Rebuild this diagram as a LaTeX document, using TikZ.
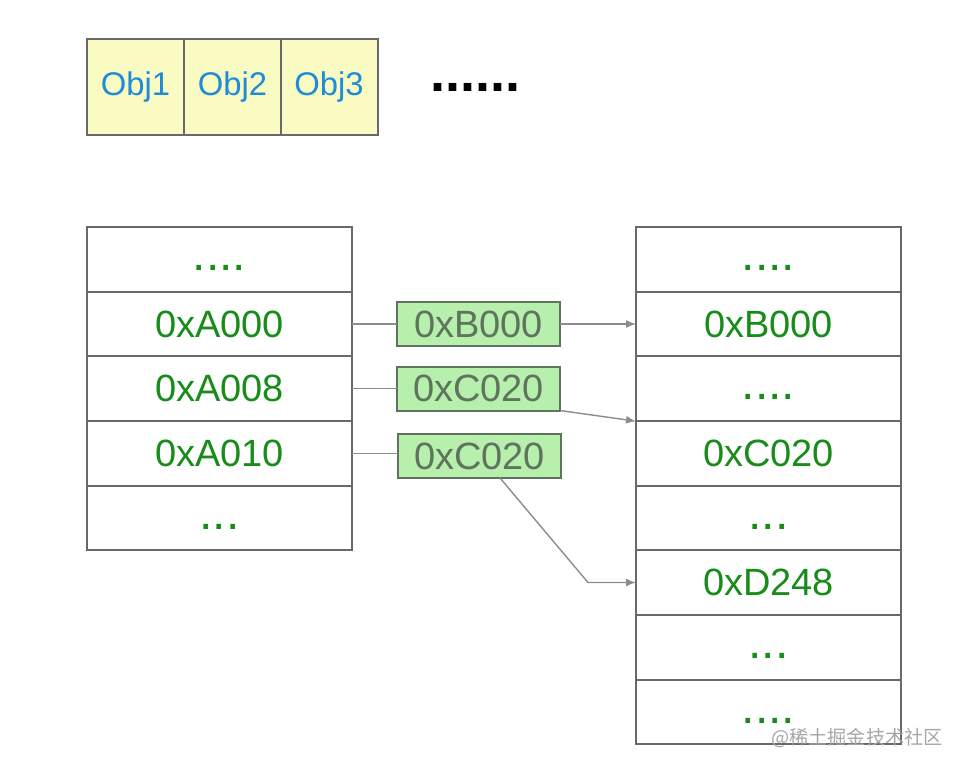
\documentclass[tikz,border=0pt]{standalone}
\usepackage{fontspec}
\usepackage{xcolor}
\setmainfont{Liberation Sans}
\newfontfamily\cjkfont{Noto Sans CJK SC}
\usetikzlibrary{arrows.meta}

\definecolor{cellgreen}{RGB}{24,140,24}
\definecolor{objblue}{RGB}{30,140,215}
\definecolor{objfill}{RGB}{250,250,195}
\definecolor{ptrfill}{RGB}{182,240,172}
\definecolor{ptrtext}{RGB}{95,115,95}
\definecolor{edgegray}{RGB}{105,105,105}
\definecolor{linkgray}{RGB}{140,140,140}

\tikzset{
  objcell/.style={draw=edgegray, line width=1pt, fill=objfill, minimum width=48.5pt, minimum height=48pt, inner sep=0pt, outer sep=0pt, text=objblue, font=\fontsize{16.4}{18}\selectfont},
  memcell/.style={draw=edgegray, line width=1pt, minimum width=132.5pt, minimum height=32.3pt, inner sep=0pt, outer sep=0pt, text=cellgreen, font=\fontsize{19}{21}\selectfont},
  gapcell/.style={memcell, font=\fontsize{24}{24}\selectfont, text height=11pt, text depth=0pt},
  ptrbox/.style={draw=ptrtext, line width=1pt, fill=ptrfill, minimum width=81.5pt, minimum height=22pt, inner sep=0pt, outer sep=0pt, text=ptrtext, font=\fontsize{19}{21}\selectfont},
  link/.style={draw=linkgray, line width=0.7pt},
  pointer/.style={link, -{Latex[length=5pt,width=4pt]}}
}

\begin{document}
\begin{tikzpicture}[x=0.5pt,y=0.5pt,yscale=-1,xscale=1]
\useasboundingbox (0,0) rectangle (972,770);

% Objects on top
\node (o1) [objcell] at (135.5,87) {Obj1};
\node (o2) [objcell] at (232.5,87) {Obj2};
\node (o3) [objcell] at (329,87) {Obj3};
\node (more) [font=\fontsize{27}{27}\bfseries, text height=8pt, text depth=0pt] at (475,84) {......};

% Left column
\node (l1) [gapcell] at (219.5,259.5) {....};
\node (l2) [memcell] at (219.5,324) {0xA000};
\node (l3) [memcell] at (219.5,388.5) {0xA008};
\node (l4) [memcell] at (219.5,453.5) {0xA010};
\node (l5) [gapcell] at (219.5,518) {...};

% Right column
\node (r1) [gapcell] at (768.5,259.5) {....};
\node (r2) [memcell] at (768.5,324) {0xB000};
\node (r3) [gapcell] at (768.5,388.5) {....};
\node (r4) [memcell] at (768.5,453.5) {0xC020};
\node (r5) [gapcell] at (768.5,518) {...};
\node (r6) [memcell] at (768.5,582.5) {0xD248};
\node (r7) [gapcell] at (768.5,647.5) {...};
\node (r8) [gapcell] at (768.5,712) {....};

% Pointer values
\node (g1) [ptrbox] at (478.5,324) {0xB000};
\node (g2) [ptrbox] at (478.5,388.5) {0xC020};
\node (g3) [ptrbox] at (479.5,456) {0xC020};

% Links
\draw [link] (l2.east) -- (g1.west);
\draw [link] (l3.east) -- (g2.west);
\draw [link] (l4.east) -- (l4.east -| g3.west);
\draw [pointer] (g1.east) -- (r2.west);
\draw [pointer] (g2.south east) -- (r4.north west);
\coordinate (bend) at (588,582.5);
\draw [pointer] (g3.-47) -- (bend) -- (r6.west);

% Watermark
\node (mark) [anchor=east, text=black!35, font=\cjkfont\fontsize{9.6}{11}\selectfont] at (950,738) {@稀土掘金技术社区};
\end{tikzpicture}
\end{document}
